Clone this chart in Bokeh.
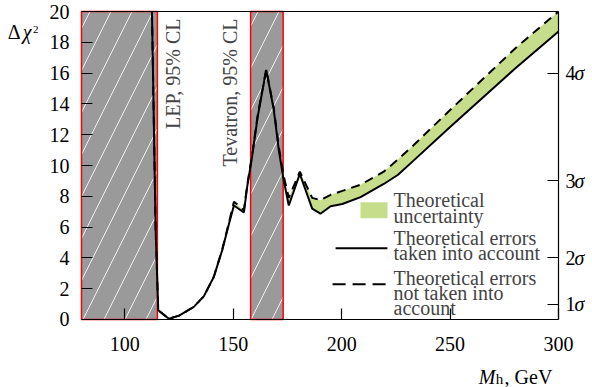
from bokeh.plotting import figure
from bokeh.models import Range1d, LinearAxis, FixedTicker, Label
from bokeh.embed import file_html
from bokeh.resources import INLINE

# ---------------- data ----------------
mass = [112.5, 114.2, 115.4, 120.3, 125.0, 131.8, 136.4, 141.0, 144.9, 148.0,
        150.3, 154.9, 156.4, 158.7, 161.3, 165.2, 168.7, 171.0, 173.3, 175.6,
        180.7, 186.4, 190.2, 194.9, 200.3, 208.7, 219.4, 226.0, 233.0, 250.0,
        265.0, 280.0, 300.0]
chi2_with_theory = [20.0, 5.8, 0.6, 0.05, 0.25, 0.82, 1.5, 2.76, 4.5, 6.2,
                    7.4, 6.95, 8.6, 10.6, 13.2, 16.2, 13.6, 11.0, 9.0, 7.4,
                    9.45, 7.2, 6.87, 7.35, 7.5, 7.95, 8.8, 9.4, 10.3, 12.5,
                    14.4, 16.3, 18.7]
chi2_without_theory = [20.0, 5.8, 0.6, 0.05, 0.25, 0.82, 1.5, 2.76, 4.55, 6.3,
                       7.65, 7.1, 8.7, 10.7, 13.3, 16.25, 13.7, 11.2, 9.3, 7.9,
                       9.6, 7.9, 7.75, 8.1, 8.35, 8.75, 9.6, 10.4, 11.3, 13.6,
                       15.6, 17.6, 20.0]
excl_left = [80, 158]
excl_right = [115, 173]
excl_names = ["LEP, 95% CL", "Tevatron, 95% CL"]
x_ticks = [100, 150, 200, 250, 300]
y_ticks = [0, 2, 4, 6, 8, 10, 12, 14, 16, 18, 20]
sigma_n = ["1", "2", "3", "4"]
sigma_chi2 = [1, 4, 9, 16]

X0, X1 = 80, 300        # plotted mass window
Y0, Y1 = 0, 20          # plotted Δχ² window

# ---------------- layout (canvas pixels) ----------------
W, H = 592, 387
PL, PR, PT, PB = 81, 558, 11, 319   # plot box edges
kx = (PR - PL) / (X1 - X0)
ky = (PB - PT) / (Y1 - Y0)


def cx(px):
    """canvas pixel column -> x coordinate"""
    return round(X0 + (px - PL) / kx, 4)


def cy(py):
    """canvas pixel row -> y coordinate"""
    return round(Y0 + (PB - py) / ky, 4)


FONT = "Liberation Serif"
GREEN = "#c6de8c"
GRAY = "#9a9a9a"

p = figure(width=W, height=H,
           x_range=Range1d(cx(0), cx(W)), y_range=Range1d(cy(H), cy(0)),
           output_backend="svg", toolbar_location=None, min_border=0)
p.title.visible = False
p.grid.visible = False
p.outline_line_color = None
p.background_fill_color = "white"
p.border_fill_color = "white"

# exclusion bands
p.quad(left=excl_left, right=excl_right, bottom=Y0, top=Y1,
       fill_color=GRAY, line_color="#ff0000", line_width=1.5,
       hatch_pattern="right_diagonal_line", hatch_color="white",
       hatch_scale=42, hatch_weight=1, hatch_alpha=0.85)

# theory uncertainty band and curves
p.varea(x=mass, y1=chi2_with_theory, y2=chi2_without_theory, fill_color=GREEN)
p.line(mass, chi2_without_theory, line_color="black", line_width=2, line_dash="9 6")
p.line(mass, chi2_with_theory, line_color="black", line_width=2)


def style_axis(ax, standoff):
    ax.major_tick_in = 11
    ax.major_tick_out = 0
    ax.minor_tick_line_color = None
    ax.major_label_text_font = FONT
    ax.major_label_text_font_size = "20px"
    ax.major_label_text_color = "black"
    ax.major_label_standoff = standoff
    ax.axis_line_color = "black"
    ax.axis_line_width = 1.2
    ax.major_tick_line_width = 1.2


# bottom axis
xa = p.xaxis[0]
xa.fixed_location = Y0
xa.bounds = (X0, X1)
xa.ticker = FixedTicker(ticks=x_ticks)
style_axis(xa, 18)

# left axis (its line is the red band edge)
ya = p.yaxis[0]
ya.fixed_location = X0
ya.bounds = (Y0, Y1)
ya.ticker = FixedTicker(ticks=y_ticks)
style_axis(ya, 12)
ya.axis_line_color = None

# right sigma axis
ra = LinearAxis(fixed_location=X1, bounds=(Y0, Y1), ticker=FixedTicker(ticks=sigma_chi2),
                major_label_overrides=dict(zip(sigma_chi2, sigma_n)))
style_axis(ra, 7)
p.add_layout(ra, "right")

# top frame line
ta = LinearAxis(fixed_location=Y1, bounds=(X0, X1), ticker=FixedTicker(ticks=[]))
ta.axis_line_color = "black"
ta.axis_line_width = 1
ta.major_tick_line_color = None
ta.minor_tick_line_color = None
ta.major_label_text_font_size = "0px"
p.add_layout(ta, "above")


def text_axis(side, loc, ticks, labels, size="20px", style="normal", standoff=0):
    """A line-less, tick-less axis used only to set text pieces beside the plot box."""
    ax = LinearAxis(fixed_location=loc, ticker=FixedTicker(ticks=ticks),
                    major_label_overrides=dict(zip(ticks, labels)))
    ax.axis_line_color = None
    ax.major_tick_line_color = None
    ax.minor_tick_line_color = None
    ax.major_tick_in = 0
    ax.major_tick_out = 0
    ax.major_label_standoff = standoff
    ax.major_label_text_font = FONT
    ax.major_label_text_font_size = size
    ax.major_label_text_font_style = style
    ax.major_label_text_color = "black"
    p.add_layout(ax, side)


# italic sigma after each digit of the right axis
text_axis("right", X1, sigma_chi2, ["σ"] * 4, style="italic", standoff=16)

# y title  Δχ²  (right-aligned pieces, left of the plot box)
text_axis("left", X0, [cy(31)], ["Δ"], standoff=61)
text_axis("left", X0, [cy(31)], ["χ"], style="italic", standoff=50)
text_axis("left", X0, [cy(28.5)], ["2"], size="11px", standoff=43)

# x title  M_h, GeV  (centered pieces, below the plot box)
text_axis("below", Y0, [cx(486.5)], ["M"], style="italic", standoff=47)
text_axis("below", Y0, [cx(499)], ["h"], size="15px", standoff=52)
text_axis("below", Y0, [cx(528)], [", GeV"], standoff=47)

# band labels (rotated)
band_label_x = [122.4, 148.3]
for xx, t in zip(band_label_x, excl_names):
    p.add_layout(Label(x=xx, y=Y1, y_offset=-7, text=t, angle=90, angle_units="deg",
                       text_align="right", text_baseline="alphabetic",
                       text_font=FONT, text_font_size="20px"))

# legend (manual)
leg_patch = dict(x=214.9, y=7.09)
p.rect(x=[leg_patch["x"]], y=[leg_patch["y"]], width=27, height=16,
       width_units="screen", height_units="screen", fill_color=GREEN, line_color=None)
p.line([197.2, 221.1], [4.62, 4.62], line_color="black", line_width=2)
p.line([195.8, 221.1], [2.29, 2.29], line_color="black", line_width=2, line_dash="13 7")
leg_text_x = 223.9
leg_lines = [("Theoretical", 7.74), ("uncertainty", 6.70),
             ("Theoretical errors", 5.27), ("taken into account", 4.30),
             ("Theoretical errors", 2.68), ("not taken into", 1.71), ("account", 0.73)]
for t, yy in leg_lines:
    p.add_layout(Label(x=leg_text_x, y=yy, text=t, text_font=FONT, text_font_size="20px",
                       text_baseline="alphabetic", text_align="left"))

open("out.html", "w").write(file_html(p, INLINE))
